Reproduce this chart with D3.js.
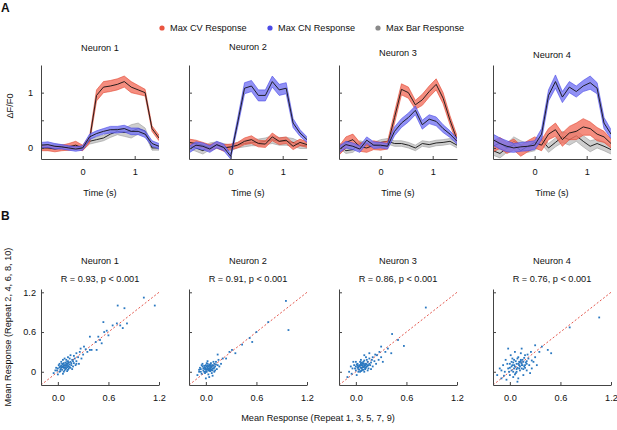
<!DOCTYPE html>
<html>
<head>
<meta charset="utf-8">
<script src="https://cdn.jsdelivr.net/npm/d3@7"></script>
<style>
  body { margin: 0; background: #fff; }
  text { font-family: 'Liberation Sans', Arial, sans-serif; fill: #111; }
</style>
</head>
<body>
<script>
// time points (s), one frame every ~0.133 s
const times = [-0.8, -0.667, -0.533, -0.4, -0.267, -0.133, 0, 0.133, 0.267, 0.4, 0.533, 0.667, 0.8, 0.933, 1.067, 1.2, 1.333, 1.467]
const neuronNames = ['Neuron 1', 'Neuron 2', 'Neuron 3', 'Neuron 4']

// Max CV Response (mean and sem), one row per neuron
const cvMean = [
  [0.0, 0.0, -0.02, 0.0, 0.02, 0.05, 0.0, 0.15, 0.95, 1.1, 1.12, 1.15, 1.2, 1.1, 1.05, 1.0, 0.35, 0.18],
  [0.1, 0.08, 0.05, 0.0, 0.05, 0.0, 0.02, 0.05, 0.12, 0.15, 0.08, 0.07, 0.2, 0.12, 0.14, 0.03, 0.1, 0.06],
  [-0.05, 0.1, 0.15, 0.02, 0.0, 0.05, 0.03, 0.05, 0.55, 1.06, 1.0, 0.78, 0.87, 1.02, 1.15, 0.9, 0.5, 0.15],
  [0.03, 0.09, 0.0, 0.06, -0.05, 0.03, 0.1, 0.05, 0.25, 0.33, 0.15, 0.27, 0.3, 0.38, 0.35, 0.25, 0.2, 0.08]
]
const cvSem = [
  [0.05, 0.05, 0.05, 0.05, 0.06, 0.07, 0.05, 0.06, 0.1, 0.1, 0.1, 0.1, 0.1, 0.1, 0.08, 0.06, 0.05, 0.05],
  [0.06, 0.06, 0.05, 0.06, 0.05, 0.06, 0.05, 0.05, 0.06, 0.07, 0.06, 0.06, 0.07, 0.06, 0.06, 0.06, 0.06, 0.05],
  [0.08, 0.1, 0.1, 0.08, 0.08, 0.08, 0.07, 0.07, 0.1, 0.1, 0.1, 0.08, 0.1, 0.1, 0.1, 0.1, 0.08, 0.07],
  [0.1, 0.1, 0.1, 0.1, 0.1, 0.1, 0.1, 0.1, 0.1, 0.12, 0.12, 0.12, 0.15, 0.15, 0.12, 0.12, 0.1, 0.08]
]

// Max CN Response
const cnMean = [
  [0.05, 0.06, 0.03, 0.02, 0.0, -0.02, 0.0, 0.2, 0.26, 0.3, 0.33, 0.33, 0.35, 0.3, 0.3, 0.25, 0.08, 0.03],
  [-0.03, 0.05, 0.03, -0.02, 0.06, 0.01, -0.15, 0.45, 1.08, 1.12, 0.95, 0.95, 1.2, 1.05, 1.08, 0.45, 0.27, 0.15],
  [-0.03, 0.06, 0.03, -0.02, 0.14, 0.05, 0.05, 0.03, 0.3, 0.45, 0.55, 0.68, 0.42, 0.52, 0.48, 0.35, 0.25, 0.12],
  [0.15, 0.08, 0.03, 0.0, 0.02, 0.03, 0.05, 0.25, 0.95, 1.2, 0.92, 1.1, 1.02, 1.12, 1.18, 1.08, 0.45, 0.25]
]
const cnSem = [
  [0.05, 0.05, 0.05, 0.04, 0.04, 0.04, 0.04, 0.05, 0.05, 0.05, 0.06, 0.06, 0.06, 0.06, 0.06, 0.06, 0.05, 0.05],
  [0.06, 0.06, 0.06, 0.06, 0.06, 0.06, 0.05, 0.08, 0.1, 0.1, 0.1, 0.1, 0.1, 0.1, 0.1, 0.08, 0.06, 0.05],
  [0.06, 0.06, 0.06, 0.06, 0.06, 0.06, 0.05, 0.05, 0.08, 0.08, 0.08, 0.08, 0.08, 0.08, 0.08, 0.07, 0.06, 0.05],
  [0.1, 0.1, 0.1, 0.08, 0.08, 0.08, 0.08, 0.1, 0.1, 0.12, 0.1, 0.1, 0.1, 0.1, 0.12, 0.1, 0.1, 0.08]
]

// Max Bar Response
const barMean = [
  [0.02, 0.0, 0.03, 0.02, 0.0, 0.02, 0.0, 0.12, 0.15, 0.18, 0.25, 0.3, 0.28, 0.3, 0.35, 0.3, 0.0, 0.0],
  [0.05, 0.0, -0.05, 0.03, 0.05, 0.02, 0.0, 0.05, 0.08, 0.1, 0.1, 0.12, 0.15, 0.12, 0.12, 0.1, 0.05, 0.04],
  [0.05, -0.05, -0.03, 0.08, 0.05, 0.05, 0.1, 0.12, 0.08, 0.08, 0.05, 0.0, 0.08, 0.06, 0.09, 0.1, 0.12, 0.05],
  [-0.05, -0.1, 0.0, 0.12, 0.05, 0.0, 0.03, 0.15, 0.0, 0.1, 0.2, 0.15, 0.22, 0.12, 0.03, 0.08, 0.03, -0.03]
]
const barSem = [
  [0.04, 0.04, 0.04, 0.04, 0.04, 0.04, 0.04, 0.05, 0.05, 0.05, 0.06, 0.06, 0.07, 0.12, 0.1, 0.06, 0.04, 0.04],
  [0.06, 0.06, 0.06, 0.06, 0.06, 0.06, 0.05, 0.05, 0.06, 0.06, 0.06, 0.06, 0.07, 0.07, 0.07, 0.07, 0.06, 0.05],
  [0.05, 0.05, 0.05, 0.05, 0.05, 0.05, 0.05, 0.05, 0.05, 0.05, 0.05, 0.05, 0.05, 0.05, 0.05, 0.05, 0.05, 0.05],
  [0.08, 0.08, 0.08, 0.08, 0.08, 0.08, 0.08, 0.08, 0.08, 0.08, 0.1, 0.1, 0.1, 0.1, 0.1, 0.08, 0.08, 0.08]
]

// Panel B: R values and (odd repeats, even repeats) pairs
const rLabels = ['R = 0.93, p < 0.001', 'R = 0.91, p < 0.001', 'R = 0.86, p < 0.001', 'R = 0.76, p < 0.001']

const scatter1 = [[-0.05,-0.02],[-0.03,0.02],[0.0,0.05],[0.02,0.0],[0.03,0.08],[0.05,0.03],[0.05,0.12],[0.06,-0.03],[0.07,0.06],[0.08,0.1],[0.08,0.02],[0.09,0.14],[0.1,0.05],[0.1,0.09],[0.11,0.12],[0.12,0.03],[0.12,0.16],[0.13,0.08],[0.14,0.11],[0.15,0.06],[0.15,0.15],[0.16,0.1],[0.17,0.18],[0.18,0.08],[0.19,0.13],[0.2,0.2],[0.21,0.1],[0.22,0.16],[0.24,0.22],[0.25,0.12],[0.04,0.15],[0.01,0.1],[-0.02,0.06],[0.0,-0.04],[0.03,0.04],[0.06,0.08],[0.07,0.0],[0.09,0.07],[0.11,0.01],[0.13,0.14],[0.02,0.12],[0.04,0.06],[0.06,0.18],[0.1,0.18],[0.14,0.2],[0.17,0.04],[0.19,0.24],[0.22,0.28],[0.26,0.3],[0.28,0.2],[0.3,0.26],[0.33,0.34],[0.35,0.3],[0.31,0.38],[0.27,0.35],[0.38,0.33],[0.22,0.12],[0.08,0.2],[0.15,0.25],[0.12,0.22],[0.38,0.53],[0.48,0.53],[0.5,0.48],[0.52,0.43],[0.4,0.33],[0.46,0.33],[0.55,0.6],[0.54,0.75],[0.65,0.7],[0.7,0.73],[0.74,0.7],[0.77,0.66],[0.82,0.73],[0.71,1.0],[0.79,0.96],[1.02,1.12],[1.15,1.0],[0.6,0.55],[0.45,0.45],[0.58,0.62],
  [0.04,0.09],[0.06,0.11],[0.07,0.13],[0.09,0.04],[0.1,0.12],[0.11,0.07],[0.12,0.09],[0.13,0.05],[0.14,0.07],[0.05,0.07],[0.08,0.06],[0.09,0.1],[0.07,0.09],[0.11,0.15],[0.03,0.01],[0.16,0.13],[0.18,0.16],[0.02,0.07],[-0.01,0.02],[0.12,0.12]]

const scatter2 = [[-0.1,-0.05],[-0.08,0.0],[-0.06,0.04],[-0.05,-0.03],[-0.04,0.08],[-0.03,0.02],[-0.02,0.06],[-0.01,-0.02],[0.0,0.03],[0.0,0.1],[0.01,0.0],[0.02,0.06],[0.02,0.12],[0.03,-0.04],[0.04,0.04],[0.04,0.09],[0.05,0.01],[0.06,0.07],[0.06,0.13],[0.07,0.03],[0.08,0.1],[0.09,0.05],[0.1,0.12],[0.1,0.0],[0.11,0.08],[0.12,0.15],[0.13,0.04],[0.14,0.1],[0.15,0.18],[0.16,0.08],[-0.07,0.06],[-0.04,0.12],[-0.02,0.0],[0.01,0.08],[0.03,0.02],[0.05,0.1],[0.07,-0.02],[0.08,0.05],[0.09,0.15],[0.11,0.02],[0.0,0.05],[-0.05,0.1],[0.02,0.16],[0.04,-0.08],[0.12,0.11],[0.05,0.05],[-0.01,0.04],[0.06,0.02],[0.03,0.08],[0.18,0.12],[0.2,0.2],[0.14,0.26],[0.24,0.2],[0.28,0.3],[0.31,0.33],[0.35,0.28],[0.43,0.41],[0.52,0.51],[0.55,0.45],[0.6,0.6],[0.74,0.75],[0.98,0.63],[0.95,1.07],[0.0,-0.1],[0.08,-0.06],
  [-0.03,0.05],[-0.01,0.07],[0.01,0.03],[0.02,0.09],[0.03,0.05],[0.04,0.11],[0.05,0.07],[0.06,0.04],[0.07,0.08],[0.08,0.02],[-0.06,0.0],[-0.02,0.09],[0.0,0.0],[0.01,0.13],[0.09,0.09],[0.1,0.06],[-0.08,0.03],[0.04,0.02],[0.02,0.04],[0.06,0.1]]

const scatter3 = [[-0.1,-0.08],[-0.08,0.0],[-0.05,-0.03],[-0.04,0.05],[-0.02,0.1],[0.0,0.02],[0.0,0.08],[0.01,-0.05],[0.02,0.12],[0.03,0.04],[0.04,0.08],[0.05,0.0],[0.05,0.15],[0.06,0.06],[0.07,0.1],[0.08,0.03],[0.08,0.13],[0.09,0.07],[0.1,0.17],[0.1,0.1],[0.11,0.04],[0.12,0.12],[0.13,0.08],[0.14,0.15],[0.15,0.05],[0.16,0.2],[0.17,0.1],[0.18,0.14],[0.2,0.08],[0.2,0.22],[0.22,0.16],[0.24,0.12],[0.25,0.25],[0.27,0.18],[0.3,0.22],[0.32,0.15],[0.35,0.3],[0.12,0.22],[0.06,0.18],[0.03,0.0],[-0.03,0.15],[0.02,0.06],[0.07,0.02],[0.09,0.12],[0.11,0.06],[0.13,0.18],[0.15,0.1],[0.18,0.04],[0.04,0.1],[0.06,0.13],[0.08,0.07],[0.1,0.0],[0.14,0.02],[0.19,0.18],[0.23,0.26],[0.0,0.15],[0.28,0.3],[0.1,0.25],[0.16,0.28],[-0.06,0.08],[0.42,0.28],[0.57,0.39],[0.43,0.57],[0.83,0.97],[0.5,0.48],[0.38,0.35],[0.3,0.38],
  [0.03,0.07],[0.05,0.09],[0.06,0.11],[0.07,0.05],[0.08,0.1],[0.09,0.03],[0.1,0.08],[0.11,0.12],[0.12,0.06],[0.13,0.11],[0.02,0.09],[0.04,0.03],[0.06,0.01],[0.09,0.15],[0.14,0.09],[0.01,0.11],[-0.01,0.05],[0.16,0.12],[0.07,0.14],[0.11,0.09]]

const scatter4 = [[-0.15,-0.05],[-0.12,0.05],[-0.1,-0.1],[-0.08,0.1],[-0.06,0.0],[-0.05,0.18],[-0.04,-0.12],[-0.02,0.05],[0.0,0.12],[0.0,-0.05],[0.01,0.25],[0.02,0.02],[0.03,0.1],[0.04,-0.08],[0.05,0.18],[0.05,0.05],[0.06,0.3],[0.07,-0.02],[0.08,0.12],[0.09,0.06],[0.1,0.22],[0.1,-0.1],[0.11,0.15],[0.12,0.02],[0.13,0.28],[0.14,0.1],[0.15,0.18],[0.16,-0.05],[0.17,0.08],[0.18,0.25],[0.19,0.14],[0.2,0.02],[0.22,0.2],[0.23,0.1],[0.25,0.3],[0.26,0.05],[0.28,0.15],[0.3,0.22],[0.32,0.1],[0.35,0.3],[-0.02,0.35],[0.03,0.2],[0.07,0.16],[0.12,0.08],[0.14,0.35],[0.09,-0.15],[0.04,0.0],[-0.1,0.02],[0.2,0.12],[0.16,0.04],[0.11,0.1],[0.06,0.08],[0.02,0.15],[0.08,0.0],[0.13,0.18],[0.18,0.06],[-0.07,-0.06],[0.24,-0.02],[0.0,0.06],[0.15,0.1],[0.49,0.28],[0.45,0.33],[0.38,0.38],[0.71,0.67],[1.06,0.82],[0.3,0.4],
  [0.1,0.12],[0.12,0.14],[0.14,0.13],[0.16,0.15],[0.13,0.16],[0.08,0.04],[0.05,0.1],[0.02,0.08],[-0.03,0.12],[0.18,0.1],[0.2,0.16],[0.09,0.2],[0.11,0.05],[0.06,-0.04],[-0.01,0.0],[0.21,0.26],[0.17,0.21],[0.04,0.14],[0.14,0.05],[0.26,0.17]]

const scatters = [scatter1, scatter2, scatter3, scatter4]
const diag = [-0.2, 1.2]

const totalWidth = 617, totalHeight = 430
const panelX = [41, 189, 339, 493], panelW = 118
const fontSize = '9.2px'

const svg = d3.select('body').append('svg')
  .attr('width', totalWidth)
  .attr('height', totalHeight)

// series styles, drawn back to front
const seriesList = [
  { mean: barMean, sem: barSem, fill: '#c6c6c6', edge: '#9a9a9a', op: 0.85 },
  { mean: cvMean, sem: cvSem, fill: '#f2705f', edge: '#e0442f', op: 0.8 },
  { mean: cnMean, sem: cnSem, fill: '#7676f3', edge: '#4646e6', op: 0.8 }
]

function styleAxis(g) {
  g.selectAll('.domain').attr('stroke', '#444')
  g.selectAll('.tick line').attr('stroke', '#444')
  g.selectAll('.tick text').style('font-size', fontSize).attr('fill', '#111')
}

// panel labels
svg.append('text').attr('x', 1).attr('y', 12).text('A')
  .style('font-size', '12px').style('font-weight', 'bold')
svg.append('text').attr('x', 1).attr('y', 220).text('B')
  .style('font-size', '12px').style('font-weight', 'bold')

// Legend
const legendItems = [
  { label: 'Max CV Response', color: '#ea5540', x: 162 },
  { label: 'Max CN Response', color: '#4b4be6', x: 270 },
  { label: 'Max Bar Response', color: '#8a8a8a', x: 378 }
]
legendItems.forEach(l => {
  svg.append('circle').attr('cx', l.x).attr('cy', 28).attr('r', 2.6).attr('fill', l.color)
  svg.append('text').attr('x', l.x + 8).attr('y', 31).text(l.label).style('font-size', fontSize)
})

// ---------- Panel A: traces ----------
const yA = d3.scaleLinear().domain([-0.2, 1.5]).range([159, 65])
const titleYA = [51, 50, 56, 58]

neuronNames.forEach((name, i) => {
  const x0 = panelX[i]
  const xA = d3.scaleLinear().domain([-0.8, 1.467]).range([x0, x0 + panelW])

  svg.append('clipPath').attr('id', 'clipA' + i)
    .append('rect').attr('x', x0).attr('y', 65).attr('width', panelW).attr('height', 94)

  const g = svg.append('g').attr('clip-path', 'url(#clipA' + i + ')')

  seriesList.forEach(s => {
    const m = s.mean[i], e = s.sem[i]
    const band = d3.area()
      .x((d, j) => xA(times[j]))
      .y0((d, j) => yA(m[j] - e[j]))
      .y1((d, j) => yA(m[j] + e[j]))
    const upper = d3.line().x((d, j) => xA(times[j])).y((d, j) => yA(m[j] + e[j]))
    const lower = d3.line().x((d, j) => xA(times[j])).y((d, j) => yA(m[j] - e[j]))
    const mid = d3.line().x((d, j) => xA(times[j])).y((d, j) => yA(m[j]))

    g.append('path').datum(m).attr('d', band).attr('fill', s.fill).attr('fill-opacity', s.op)
    g.append('path').datum(m).attr('d', upper).attr('fill', 'none').attr('stroke', s.edge).attr('stroke-width', 0.6)
    g.append('path').datum(m).attr('d', lower).attr('fill', 'none').attr('stroke', s.edge).attr('stroke-width', 0.6)
    g.append('path').datum(m).attr('d', mid).attr('fill', 'none').attr('stroke', '#111').attr('stroke-width', 0.9)
  })

  const yAxis = d3.axisLeft(yA)
    .tickValues([0, 0.5, 1])
    .tickSize(-3).tickSizeOuter(0).tickPadding(8)
    .tickFormat(d => (i === 0 && d !== 0.5) ? d : '')
  svg.append('g').attr('transform', 'translate(' + x0 + ',0)').call(yAxis).call(styleAxis)

  const xAxis = d3.axisBottom(xA)
    .tickValues([0, 1])
    .tickSize(-3).tickSizeOuter(0).tickPadding(9)
    .tickFormat(d3.format('d'))
  svg.append('g').attr('transform', 'translate(0,159)').call(xAxis).call(styleAxis)

  svg.append('text').attr('x', x0 + panelW / 2).attr('y', titleYA[i])
    .attr('text-anchor', 'middle').style('font-size', fontSize).text(name)

  svg.append('text').attr('x', x0 + panelW / 2).attr('y', 196)
    .attr('text-anchor', 'middle').style('font-size', fontSize).text('Time (s)')
})

// Y-axis label A
svg.append('text')
  .attr('transform', 'translate(13,106) rotate(-90)')
  .attr('text-anchor', 'middle').style('font-size', fontSize).text('ΔF/F0')

// ---------- Panel B: repeat reliability ----------
const yB = d3.scaleLinear().domain([-0.2, 1.25]).range([385, 289])

neuronNames.forEach((name, i) => {
  const x0 = panelX[i]
  const xB = d3.scaleLinear().domain([-0.2, 1.2]).range([x0, x0 + panelW])

  svg.append('text').attr('x', x0 + panelW / 2).attr('y', 264)
    .attr('text-anchor', 'middle').style('font-size', fontSize).text(name)
  svg.append('text').attr('x', x0 + panelW / 2).attr('y', 282)
    .attr('text-anchor', 'middle').style('font-size', fontSize).text(rLabels[i])

  svg.append('line')
    .attr('x1', xB(diag[0])).attr('y1', yB(diag[0]))
    .attr('x2', xB(diag[1])).attr('y2', yB(diag[1]))
    .attr('stroke', '#e0453a').attr('stroke-width', 0.9).attr('stroke-dasharray', '2,2')

  svg.append('g').selectAll('rect')
    .data(scatters[i])
    .enter()
    .append('rect')
    .attr('x', d => xB(d[0]) - 0.9)
    .attr('y', d => yB(d[1]) - 0.9)
    .attr('width', 1.8)
    .attr('height', 1.8)
    .attr('fill', '#2a78c0')

  const yAxis = d3.axisLeft(yB)
    .tickValues([0, 0.6, 1.2])
    .tickSize(-3).tickSizeOuter(0).tickPadding(5)
    .tickFormat(d => i === 0 ? d : '')
  svg.append('g').attr('transform', 'translate(' + x0 + ',0)').call(yAxis).call(styleAxis)

  const xAxis = d3.axisBottom(xB)
    .tickValues([0, 0.6, 1.2])
    .tickSize(-3).tickSizeOuter(0).tickPadding(9)
  svg.append('g').attr('transform', 'translate(0,385)').call(xAxis).call(styleAxis)
})

svg.append('text')
  .attr('transform', 'translate(11,327) rotate(-90)')
  .attr('text-anchor', 'middle').style('font-size', fontSize)
  .text('Mean Response (Repeat 2, 4, 6, 8, 10)')

svg.append('text')
  .attr('x', 318).attr('y', 421)
  .attr('text-anchor', 'middle').style('font-size', fontSize)
  .text('Mean Response (Repeat 1, 3, 5, 7, 9)')
</script>
</body>
</html>
